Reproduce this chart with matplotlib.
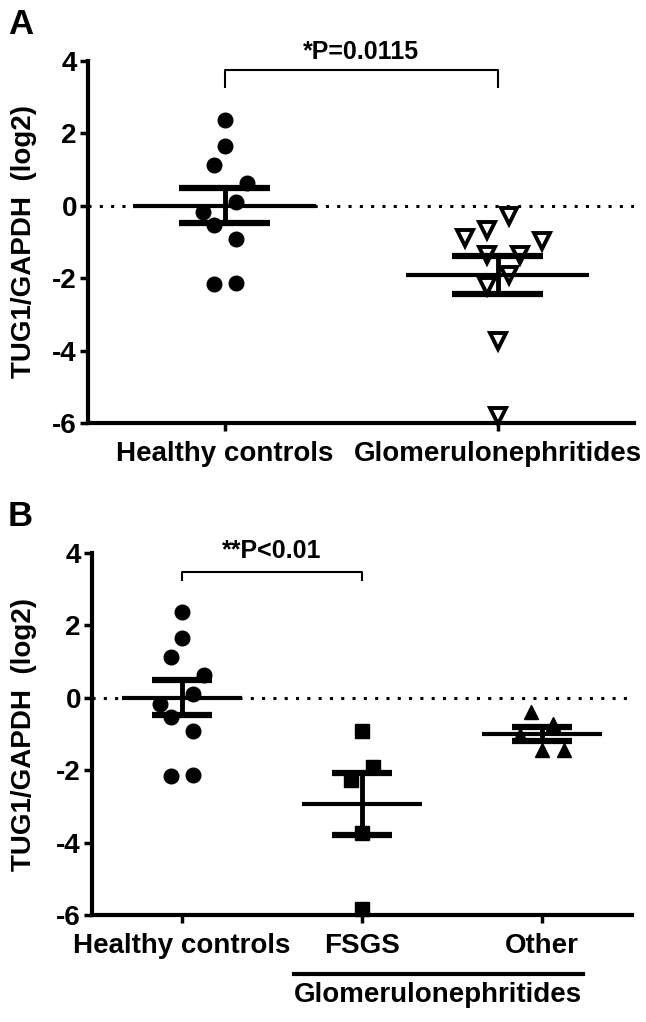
import numpy as np
import matplotlib
matplotlib.use('Agg')
import matplotlib.pyplot as plt

plt.rcParams['font.family'] = ['Liberation Sans', 'DejaVu Sans']
plt.rcParams['font.weight'] = 'bold'
plt.rcParams['axes.unicode_minus'] = False

# values (log2 TUG1/GAPDH)
healthy = [2.38, 1.66, 1.13, 0.63, 0.10, -0.16, -0.52, -0.91, -2.16, -2.12]
glomerulo = [-0.29, -0.66, -0.89, -0.96, -1.35, -1.35, -1.91, -2.21, -3.73, -5.82]
fsgs = [-0.93, -1.90, -2.27, -3.74, -5.84]
other = [-0.38, -0.72, -1.02, -1.44, -1.44]

# horizontal scatter of the points (steps of one marker half-width)
healthy_jit = [0, 0, -1, 2, 1, -2, -1, 1, -1, 1]
glomerulo_jit = [1, -1, -3, 4, -1, 2, 1, -1, 0, 0]
fsgs_jit = [0, 1, -1, 0, 0]
other_jit = [-1, 1, -2, 0, 2]

labels_a = ['Healthy controls', 'Glomerulonephritides']
labels_b = ['Healthy controls', 'FSGS', 'Other']
yticks = [-6, -4, -2, 0, 2, 4]

W, H = 646, 1022
fig = plt.figure(figsize=(W / 100, H / 100), dpi=100)


def px_axes(left, top, right, bottom):
    return fig.add_axes([left / W, 1 - bottom / H, (right - left) / W, (bottom - top) / H])


def style(ax, ncat):
    ax.set_xlim(-0.5, ncat - 0.5)
    ax.set_ylim(-6, 4)
    ax.set_yticks(yticks)
    for s in ['top', 'right']:
        ax.spines[s].set_visible(False)
    for s in ['left', 'bottom']:
        ax.spines[s].set_linewidth(3)
    ax.tick_params(direction='out', length=6, width=2.5, labelsize=20)
    ax.tick_params(axis='y', pad=2)
    ax.tick_params(axis='x', pad=7)
    ax.axhline(0, color='k', lw=2.2, dashes=(1, 2.7), zorder=1)


def group(ax, x, vals, jit, marker, fc, ms, mew):
    unit = ax.bbox.width / (ax.get_xlim()[1] - ax.get_xlim()[0])
    xs = x + np.array(jit) * 11 / unit
    ax.plot(xs, vals, ls='none', marker=marker, ms=ms, mfc=fc, mec='k',
            mew=mew, zorder=3, clip_on=False)
    m = np.mean(vals)
    sem = np.std(vals, ddof=1) / np.sqrt(len(vals))
    ax.hlines(m, x - 0.335, x + 0.335, color='k', lw=3, zorder=4)
    ax.hlines([m - sem, m + sem], x - 0.165, x + 0.165, color='k', lw=4.5, zorder=4)
    ax.vlines(x, m - sem, m + sem, color='k', lw=3.5, zorder=4)


def bracket(ax, x0, x1, y, tip, gap, text):
    ax.plot([x0, x0, x1, x1], [y - tip, y, y, y - tip], color='k', lw=1.5, clip_on=False)
    ax.text((x0 + x1) / 2, y + gap, text, ha='center', va='bottom', fontsize=18)


# Panel A
ax1 = px_axes(88, 61, 634, 423)
style(ax1, 2)
group(ax1, 0, healthy, healthy_jit, 'o', 'k', 10.5, 1)
group(ax1, 1, glomerulo, glomerulo_jit, 'v', 'w', 11, 2.8)
ax1.set_xticks([0, 1])
ax1.set_xticklabels(labels_a)
bracket(ax1, 0, 1, 3.76, 0.47, 0.15, '*P=0.0115')

# Panel B
ax2 = px_axes(92, 553, 632, 915)
style(ax2, 3)
group(ax2, 0, healthy, healthy_jit, 'o', 'k', 10.5, 1)
group(ax2, 1, fsgs, fsgs_jit, 's', 'k', 10, 1)
group(ax2, 2, other, other_jit, '^', 'k', 10.5, 1)
ax2.set_xticks([0, 1, 2])
ax2.set_xticklabels(labels_b)
bracket(ax2, 0, 1, 3.48, 0.22, 0.25, '**P<0.01')
tr = ax2.get_xaxis_transform()
ax2.plot([0.62, 2.23], [-0.163, -0.163], color='k', lw=3, transform=tr, clip_on=False)
ax2.text(1.42, -0.22, 'Glomerulonephritides', transform=tr, ha='center', va='center',
         fontsize=20)

# y labels and panel letters
for yc in [(61 + 423) / 2, (553 + 915) / 2]:
    fig.text(24 / W, 1 - yc / H, 'TUG1/GAPDH  (log2)', rotation=90, ha='center',
             va='center', fontsize=20)
fig.text(8 / W, 1 - 8 / H, 'A', ha='left', va='top', fontsize=25)
fig.text(8 / W, 1 - 500 / H, 'B', ha='left', va='top', fontsize=25)

fig.savefig('out.png', dpi=100)
